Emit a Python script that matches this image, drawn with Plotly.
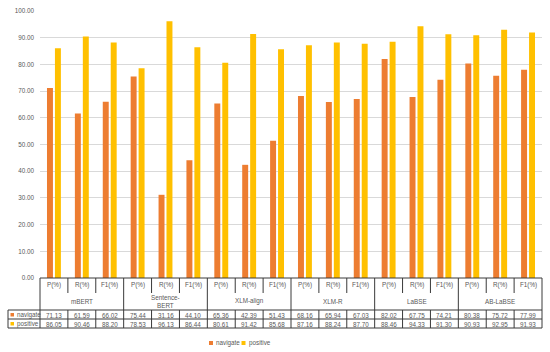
import plotly.graph_objects as go

groups = ["mBERT", "Sentence-<br>BERT", "XLM-align", "XLM-R", "LaBSE", "AB-LaBSE"]
metrics = ["P(%)", "R(%)", "F1(%)"]
series_names = ["navigate", "positive"]
navigate = [71.13, 61.59, 66.02, 75.44, 31.16, 44.10, 65.36, 42.39, 51.43,
            68.16, 65.94, 67.03, 82.02, 67.75, 74.21, 80.38, 75.72, 77.99]
positive = [86.05, 90.46, 88.20, 78.53, 96.13, 86.44, 80.61, 91.42, 85.68,
            87.16, 88.24, 87.70, 88.46, 94.33, 91.30, 90.93, 92.95, 91.93]
y_ticks = [0, 10, 20, 30, 40, 50, 60, 70, 80, 90, 100]

colors = ["#ED7D31", "#FFC000"]
FONT = "Liberation Sans"
FS = 6.3
TXT = "#595959"
LINE = "#3a3a3a"

W, H = 550, 352
L, R, T, B = 40, 8, 11, 74
PW = W - L - R
PH = H - T - B
ybot = H - B

n = len(navigate)
xs = list(range(n))

fig = go.Figure()
for name, vals, c in zip(series_names, [navigate, positive], colors):
    fig.add_trace(go.Bar(x=xs, y=vals, name=name, marker_color=c,
                         marker_line_width=0, showlegend=False, hoverinfo="skip"))

def px_x(p):
    return (p - L) / PW

def px_y(p):
    return (ybot - p) / PH

cw = PW / n
gw = cw * len(metrics)

shapes = []
def hline(x0, x1, y):
    shapes.append(dict(type="line", xref="paper", yref="paper",
                       x0=px_x(x0), x1=px_x(x1), y0=px_y(y), y1=px_y(y),
                       line=dict(color=LINE, width=1)))

def vline(x, y0, y1):
    shapes.append(dict(type="line", xref="paper", yref="paper",
                       x0=px_x(x), x1=px_x(x), y0=px_y(y0), y1=px_y(y1),
                       line=dict(color=LINE, width=1)))

r0, r1, r2 = 310, 319, 328
right = L + PW
hline(L, right, ybot)
hline(8, right, r0)
hline(8, right, r1)
hline(8, right, r2)
vline(8, r0, r2)
for i in range(n + 1):
    x = L + i * cw
    if i % len(metrics) == 0:
        vline(x, ybot, r2)
    else:
        vline(x, ybot, 293)
        vline(x, r0, r2)

annotations = []
def txt(x, y, s, xanchor="center", size=FS):
    annotations.append(dict(xref="paper", yref="paper", x=px_x(x), y=px_y(y),
                            text=s, showarrow=False, xanchor=xanchor,
                            yanchor="middle", font=dict(family=FONT, size=size, color=TXT)))

for i in range(n):
    cx = L + (i + 0.5) * cw
    txt(cx, 285, metrics[i % len(metrics)])
    txt(cx, (r0 + r1) / 2 + 0.5, f"{navigate[i]:.2f}")
    txt(cx, (r1 + r2) / 2 + 0.5, f"{positive[i]:.2f}")
for g, name in enumerate(groups):
    cx = L + (g + 0.5) * gw
    txt(cx, 301, name)

# row headers
for rowy, name, c in [((r0 + r1) / 2, series_names[0], colors[0]),
                      ((r1 + r2) / 2, series_names[1], colors[1])]:
    shapes.append(dict(type="rect", xref="paper", yref="paper",
                       x0=px_x(10.5), x1=px_x(14), y0=px_y(rowy + 2), y1=px_y(rowy - 1.5),
                       fillcolor=c, line=dict(width=0)))
    txt(14.5, rowy + 0.5, name, xanchor="left")

# legend
leg_y = 343
for x0, name, c in [(209, series_names[0], colors[0]), (241.5, series_names[1], colors[1])]:
    shapes.append(dict(type="rect", xref="paper", yref="paper",
                       x0=px_x(x0), x1=px_x(x0 + 4), y0=px_y(leg_y + 2), y1=px_y(leg_y - 2),
                       fillcolor=c, line=dict(width=0)))
    txt(x0 + 5, leg_y, name, xanchor="left")

fig.update_layout(
    width=W, height=H,
    margin=dict(l=L, r=R, t=T, b=B, pad=0),
    paper_bgcolor="white", plot_bgcolor="white",
    barmode="group", bargap=0.43, bargroupgap=0.25,
    font=dict(family=FONT, size=FS, color=TXT),
    xaxis=dict(range=[-0.5, n - 0.5], showticklabels=False, showgrid=False,
               zeroline=False, showline=False, fixedrange=True),
    yaxis=dict(range=[0, 100], tickvals=y_ticks, tickformat=".2f",
               showgrid=True, gridcolor="#D9D9D9", gridwidth=1,
               zeroline=False, showline=False, ticks="", ticklabelstandoff=5,
               tickfont=dict(family=FONT, size=FS, color=TXT), fixedrange=True),
    shapes=shapes,
    annotations=annotations,
)

fig.write_html("out.html", config={"displayModeBar": False},
               post_script="document.body.style.margin='0';document.body.style.overflow='hidden';")
